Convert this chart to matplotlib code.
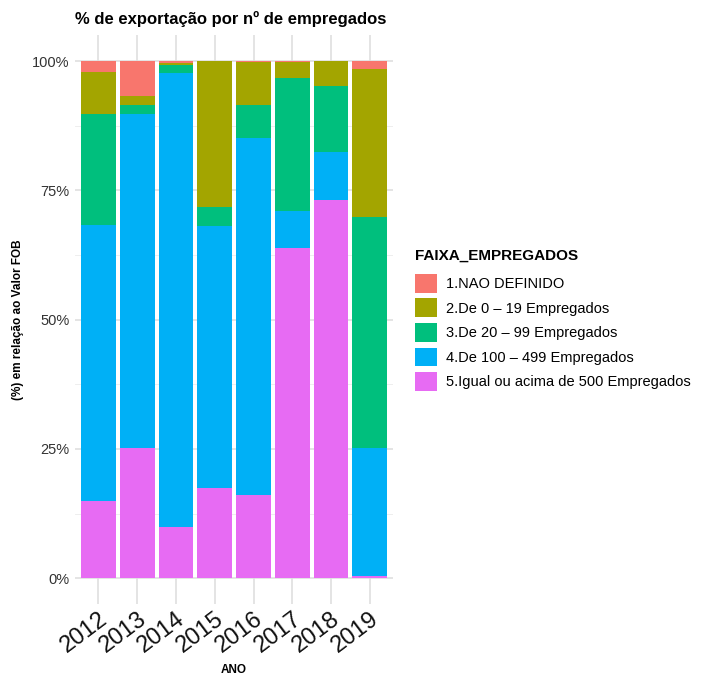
import matplotlib.pyplot as plt
import numpy as np

plt.rcParams['font.family'] = ['Liberation Sans', 'DejaVu Sans']

# Data (% of FOB value per year)
anos = ["2012", "2013", "2014", "2015", "2016", "2017", "2018", "2019"]
faixas = ["1.NAO DEFINIDO", "2.De 0 \u2013 19 Empregados", "3.De 20 \u2013 99 Empregados",
          "4.De 100 \u2013 499 Empregados", "5.Igual ou acima de 500 Empregados"]
nao_definido = [2.1, 6.7, 0.4, 0.0, 0.1, 0.1, 0.0, 1.5]
de_0_19 = [8.1, 1.8, 0.4, 28.2, 8.4, 3.1, 4.8, 28.7]
de_20_99 = [21.5, 1.7, 1.5, 3.6, 6.3, 25.9, 12.7, 44.7]
de_100_499 = [53.4, 64.7, 87.8, 50.7, 69.1, 7.1, 9.3, 24.7]
acima_500 = [14.9, 25.1, 9.9, 17.4, 16.1, 63.8, 73.2, 0.4]

cores = ["#F8766D", "#A3A500", "#00BF7D", "#00B0F6", "#E76BF3"]

fig = plt.figure(figsize=(7.16, 6.76), dpi=100)
ax = fig.add_axes([0.105, 0.1065, 0.444, 0.8415])

x = np.arange(len(anos))
series = [acima_500, de_100_499, de_20_99, de_0_19, nao_definido]
series_cores = cores[::-1]
total = np.sum(np.array(series), axis=0)  # position = "fill"
bottom = np.zeros(len(anos))
handles = []
for vals, c in zip(series, series_cores):
    v = np.array(vals) / total
    h = ax.bar(x, v, bottom=bottom, width=0.9, color=c, linewidth=0, zorder=2)
    handles.append(h)
    bottom += v

ax.set_xlim(-0.6, len(anos) - 0.4)
ax.set_ylim(-0.05, 1.05)
ax.set_yticks([0, 0.25, 0.5, 0.75, 1.0])
ax.set_yticklabels(["0%", "25%", "50%", "75%", "100%"], fontsize=10.5, color="#333333")
ax.set_yticks([0.125, 0.375, 0.625, 0.875], minor=True)
ax.set_xticks(x)
ax.set_xticklabels(anos, fontsize=17, rotation=37, ha="right", va="top",
                   rotation_mode="anchor", color="#111111")
ax.tick_params(axis="both", which="both", length=0)
ax.tick_params(axis="x", pad=3)
ax.tick_params(axis="y", pad=4)

ax.grid(True, which="major", color="#DDDDDD", linewidth=1.1, zorder=0)
ax.grid(True, which="minor", axis="y", color="#EBEBEB", linewidth=0.6, zorder=0)
ax.set_axisbelow(True)
for s in ax.spines.values():
    s.set_visible(False)

ax.set_xlabel("ANO", fontsize=8.5, fontweight="bold", labelpad=5)
ax.set_ylabel("(%) em rela\u00e7\u00e3o ao Valor FOB", fontsize=8.5, fontweight="bold", labelpad=6)
fig.text(0.105, 0.96, "% de exporta\u00e7\u00e3o por n\u00ba de empregados",
         fontsize=12, fontweight="bold", ha="left", va="bottom")

leg = fig.legend(handles[::-1], faixas, loc="center left", bbox_to_anchor=(0.572, 0.527),
                 frameon=False, title="FAIXA_EMPREGADOS", fontsize=10.5,
                 handlelength=1.5, handleheight=1.6, handletextpad=0.6,
                 labelspacing=0.4, borderaxespad=0)
leg.get_title().set_fontweight("bold")
leg.get_title().set_fontsize(11)
leg._legend_box.align = "left"
leg._legend_box.sep = 8

fig.savefig("out.png", dpi=100)
